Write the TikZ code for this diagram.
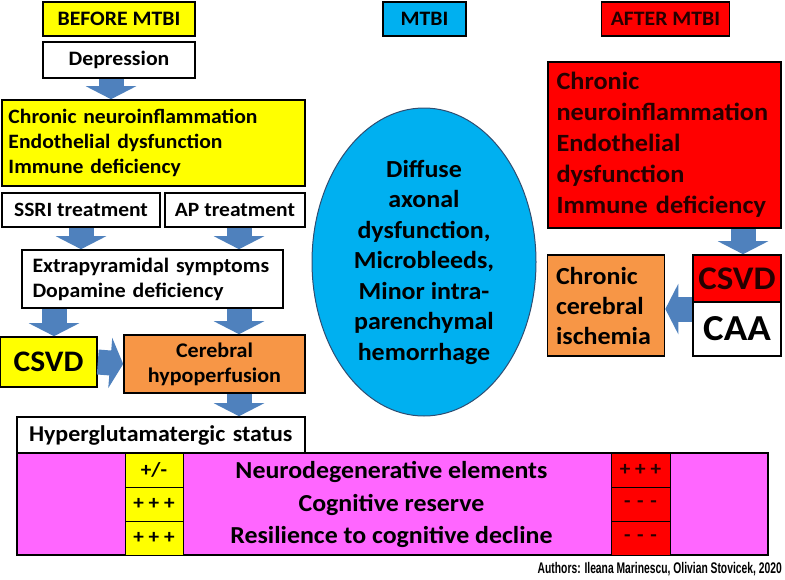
\documentclass[tikz,border=0pt]{standalone}
\usepackage{fontspec}
\setmainfont{Carlito}[FakeStretch=1.06]
\newfontfamily\authfont{Liberation Sans}
\usetikzlibrary{arrows.meta,shapes.geometric}

\definecolor{boxyellow}{HTML}{FFFF00}
\definecolor{tbiblue}{HTML}{00B0F0}
\definecolor{afterred}{HTML}{FF0000}
\definecolor{hypoorange}{HTML}{F79646}
\definecolor{statmagenta}{HTML}{FF66FF}
\definecolor{arrowblue}{HTML}{4F81BD}

\begin{document}
\begin{tikzpicture}[x=1pt, y=-1pt]
\tikzset{box/.style={draw, line width=1.6pt, inner sep=0pt, font=\bfseries}}
\tikzset{cell/.style={draw, line width=0.8pt, inner sep=0pt, minimum width=#1, minimum height=34}}
\tikzset{fsz/.style 2 args={font=\fontsize{#1}{#2}\selectfont\bfseries}}
\tikzset{barrow/.style={draw=arrowblue, line width=25pt,
  -{Triangle[width=50pt, length=13pt]}}}
\useasboundingbox (0,0) rectangle (785,579);
% column headers
\node[box, fill=boxyellow, minimum width=152, minimum height=34, fsz={20.5}{24}] (before) at (119,19) {BEFORE MTBI};
\node[box, fill=tbiblue, minimum width=83, minimum height=34, fsz={20.5}{24}] (mtbi) at (424.5,19) {MTBI};
\node[box, fill=afterred, minimum width=128, minimum height=34, fsz={20.5}{24}, text=black!85!red] (after) at (665.5,19) {AFTER MTBI};
% before mtbi
\node[box, fill=white, minimum width=152, minimum height=36, fsz={20.5}{24}] (dep) at (119,60) {Depression};
\node[box, fill=boxyellow, minimum width=303, minimum height=86, text width=290, align=left, fsz={20.4}{25}] (chron) at (153.5,143)
  {Chronic neuroinflammation\\Endothelial dysfunction\\Immune deficiency};
\node[box, fill=white, minimum width=158, minimum height=34, fsz={20.3}{24}] (ssri) at (81,210) {SSRI treatment};
\node[box, fill=white, minimum width=140, minimum height=34, fsz={20.3}{24}] (ap) at (235,210) {AP treatment};
\node[box, fill=white, minimum width=261, minimum height=58, text width=240, align=left, fsz={20.5}{25}] (extra) at (152.5,279)
  {Extrapyramidal symptoms\\Dopamine deficiency};
\node[box, fill=boxyellow, minimum width=97, minimum height=50, fsz={29.8}{32}] (csvd) at (48.5,362) {CSVD};
\node[box, fill=hypoorange, minimum width=181, minimum height=58, align=center, fsz={20.8}{25}] (cereb) at (214.5,364)
  {Cerebral\\hypoperfusion};
\node[box, fill=white, minimum width=288, minimum height=36, text width=264, align=left, fsz={22.6}{26}] (hyper) at (161,435)
  {Hyperglutamatergic status};
% mtbi
\node[ellipse, draw=arrowblue!60!black, line width=1pt, fill=tbiblue, minimum width=224, minimum height=308, inner sep=0pt,
  align=center, fsz={24.5}{30.5}] (dai) at (424,262)
  {Diffuse\\axonal\\dysfunction,\\Microbleeds,\\Minor intra-\\parenchymal\\hemorrhage};
% after mtbi
\node[box, fill=afterred, minimum width=233, minimum height=166, text width=216, align=left, fsz={24.8}{31}, text=black!85!red] (redchron) at (664.5,145)
  {Chronic\\neuroinflammation\\Endothelial\\dysfunction\\Immune deficiency};
\node[box, fill=afterred, minimum width=88, minimum height=47, fsz={33}{35}, text=black!85!red] (csvdr) at (737,278.5) {CSVD};
\node[box, fill=white, minimum width=88, minimum height=54, fsz={36.6}{38}] (caa) at (737,329) {CAA};
\node[box, fill=hypoorange, minimum width=117, minimum height=101, text width=100, align=left, fsz={24.5}{30}] (isch) at (606,305.5)
  {Chronic\\cerebral\\ischemia};
% status table
\node[box, fill=statmagenta, minimum width=751, minimum height=102] (status) at (392.5,504) {};
\node[cell=58, fill=boxyellow, fsz={20}{22}] (b1) at (154,470) {+/-};
\node[cell=58, fill=boxyellow, fsz={20}{22}] (b2) at (154,504) {+ + +};
\node[cell=58, fill=boxyellow, fsz={20}{22}] (b3) at (154,538) {+ + +};
\node[cell=59, fill=afterred, fsz={20}{22}, text=black!85!red] (a1) at (640.5,470) {+ + +};
\node[cell=59, fill=afterred, fsz={20}{22}, text=black!85!red] (a2) at (640.5,504) {-\,\,-\,\,-};
\node[cell=59, fill=afterred, fsz={20}{22}, text=black!85!red] (a3) at (640.5,538) {-\,\,-\,\,-};
\node[fsz={24.4}{27}] (neuro) at (391.5,472) {Neurodegenerative elements};
\node[fsz={24.4}{27}] (reserve) at (391.5,505) {Cognitive reserve};
\node[fsz={24.4}{27}] (resil) at (391.5,537) {Resilience to cognitive decline};
\node[anchor=east, inner sep=0pt, font=\authfont\bfseries\fontsize{15.4}{17}\selectfont] (auth) at (782,569)
  {\scalebox{0.67}[1]{Authors: Ileana Marinescu, Olivian Stovicek, 2020}};
% block arrows
\coordinate (dcol) at (111,0);
\coordinate (lcol) at (54,0);
\coordinate (rcol) at (239,0);
\coordinate (rrcol) at (743,0);
\coordinate (irow) at (0,309);
\draw[barrow] (dcol |- dep.south) -- (dcol |- chron.north);
\draw[barrow] (ssri.south) -- (ssri.south |- extra.north);
\draw[barrow] (rcol |- ap.south) -- (rcol |- extra.north);
\draw[barrow] (lcol |- extra.south) -- (lcol |- csvd.north);
\draw[barrow] (rcol |- extra.south) -- (rcol |- cereb.north);
\draw[barrow] (csvd.east) -- (cereb.west);
\draw[barrow] (rcol |- cereb.south) -- (rcol |- hyper.north);
\draw[barrow] (rrcol |- redchron.south) -- (rrcol |- csvdr.north);
\draw[barrow] (caa.west |- irow) -- (isch.east |- irow);
\end{tikzpicture}
\end{document}
